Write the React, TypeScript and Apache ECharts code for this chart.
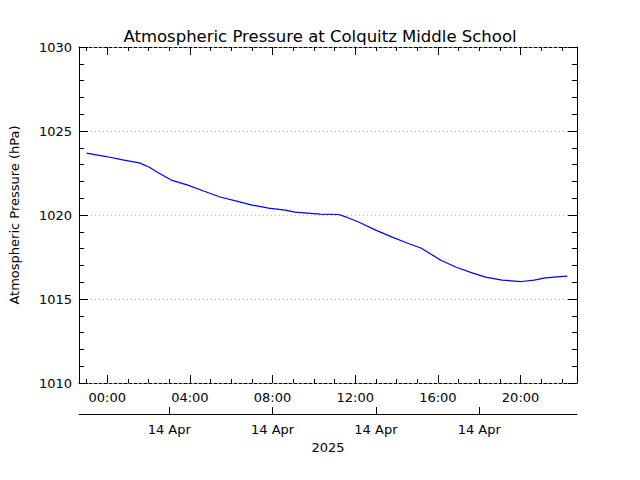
import React, { useEffect, useRef } from "react";
import * as echarts from "echarts";

// Hours relative to 14 Apr 2025 00:00
const hours = [-1.0, -0.05, 0.75, 1.55, 2.02, 2.49, 3.1, 3.9, 4.66, 5.46, 6.26, 7.01, 7.81, 8.61, 9.08, 9.7, 10.3, 11.2, 11.58, 12.19, 12.99, 13.79, 14.54, 15.2, 15.67, 16.14, 16.89, 17.69, 18.31, 19.11, 20.05, 20.66, 21.13, 21.6, 22.26];
const pressure = [1023.68, 1023.48, 1023.28, 1023.1, 1022.86, 1022.5, 1022.08, 1021.78, 1021.43, 1021.07, 1020.83, 1020.59, 1020.41, 1020.29, 1020.17, 1020.11, 1020.05, 1020.03, 1019.87, 1019.57, 1019.1, 1018.68, 1018.32, 1018.02, 1017.67, 1017.31, 1016.89, 1016.54, 1016.3, 1016.12, 1016.04, 1016.12, 1016.24, 1016.3, 1016.36];

const timeTicks = [0, 4, 8, 12, 16, 20];
const timeLabels = ["00:00", "04:00", "08:00", "12:00", "16:00", "20:00"];
const minorHours = [-1, 1, 2, 3, 5, 6, 7, 9, 10, 11, 13, 14, 15, 17, 18, 19, 21, 22];
const dateTicks = [3, 8, 13, 18];
const dateLabel = "14 Apr";
const yearLabel = "2025";
const title = "Atmospheric Pressure at Colquitz Middle School";
const yName = "Atmospheric Pressure (hPa)";

const X_MIN = -1.365;
const X_MAX = 22.73;
const FONT = "DejaVu Sans";

export default function App() {
  const ref = useRef<HTMLDivElement>(null);
  useEffect(() => {
    document.body.style.margin = "0";
    const chart = echarts.init(ref.current!, null, { renderer: "svg" });
    const baseX = {
      type: "value" as const,
      min: X_MIN,
      max: X_MAX,
      splitLine: { show: false },
    };
    const dashedLine = { show: true, onZero: false, lineStyle: { color: "#000", width: 1, type: [3, 2] as any } };
    chart.setOption({
      animation: false,
      backgroundColor: "#fff",
      title: {
        text: title,
        left: "center",
        top: 23,
        textStyle: { fontFamily: FONT, fontSize: 16.5, fontWeight: "normal", color: "#000" },
      },
      grid: { left: 65, top: 47, width: 512, height: 336, containLabel: false },
      xAxis: [
        {
          ...baseX,
          position: "bottom",
          axisLine: dashedLine,
          axisTick: { show: true, inside: true, length: 8, customValues: timeTicks, lineStyle: { color: "#000" } },
          axisLabel: {
            show: true,
            customValues: timeTicks,
            margin: 8,
            color: "#000",
            fontFamily: FONT,
            fontSize: 13,
            formatter: (v: number) => timeLabels[timeTicks.indexOf(Math.round(v))] ?? "",
          },
        },
        {
          ...baseX,
          position: "bottom",
          axisLine: { show: false, onZero: false },
          axisTick: { show: true, inside: true, length: 4, customValues: minorHours, lineStyle: { color: "#000" } },
          axisLabel: { show: false },
        },
        {
          ...baseX,
          position: "top",
          axisLine: dashedLine,
          axisTick: { show: true, inside: true, length: 8, customValues: timeTicks, lineStyle: { color: "#000" } },
          axisLabel: { show: false },
        },
        {
          ...baseX,
          position: "top",
          axisLine: { show: false, onZero: false },
          axisTick: { show: true, inside: true, length: 4, customValues: minorHours, lineStyle: { color: "#000" } },
          axisLabel: { show: false },
        },
        {
          ...baseX,
          position: "bottom",
          offset: 31,
          axisLine: { show: true, onZero: false, lineStyle: { color: "#000", width: 1 } },
          axisTick: { show: true, inside: true, length: 7, customValues: dateTicks, lineStyle: { color: "#000" } },
          axisLabel: {
            show: true,
            customValues: dateTicks,
            margin: 9,
            color: "#000",
            fontFamily: FONT,
            fontSize: 13,
            formatter: () => dateLabel,
          },
          name: yearLabel,
          nameLocation: "middle",
          nameGap: 22,
          nameTextStyle: { fontFamily: FONT, fontSize: 13, color: "#000" },
        },
      ],
      yAxis: [
        {
          type: "value",
          min: 1010,
          max: 1030,
          interval: 5,
          position: "left",
          name: yName,
          nameLocation: "middle",
          nameGap: 58,
          nameTextStyle: { fontFamily: FONT, fontSize: 13, color: "#000" },
          axisLine: { show: true, onZero: false, lineStyle: { color: "#000", width: 1 } },
          axisTick: { show: true, inside: true, length: 9, lineStyle: { color: "#000" } },
          minorTick: { show: true, splitNumber: 5, length: 5, lineStyle: { color: "#000" } },
          axisLabel: { margin: 7, color: "#000", fontFamily: FONT, fontSize: 13, formatter: (v: number) => String(v) },
          splitLine: { show: true, lineStyle: { color: "#bbb", type: [1, 3] as any, width: 1 } },
        },
        {
          type: "value",
          min: 1010,
          max: 1030,
          interval: 5,
          position: "right",
          axisLine: { show: true, onZero: false, lineStyle: { color: "#000", width: 1 } },
          axisTick: { show: true, inside: true, length: 9, lineStyle: { color: "#000" } },
          minorTick: { show: true, splitNumber: 5, length: 5, lineStyle: { color: "#000" } },
          axisLabel: { show: false },
          splitLine: { show: false },
        },
      ],
      series: [
        {
          type: "line",
          xAxisIndex: 0,
          yAxisIndex: 0,
          data: hours.map((h, i) => [h, pressure[i]]),
          showSymbol: false,
          symbol: "none",
          smooth: false,
          lineStyle: { color: "#0000ff", width: 1.2 },
        },
      ],
    });
    return () => chart.dispose();
  }, []);
  return <div ref={ref} style={{ width: 640, height: 480 }} />;
}
